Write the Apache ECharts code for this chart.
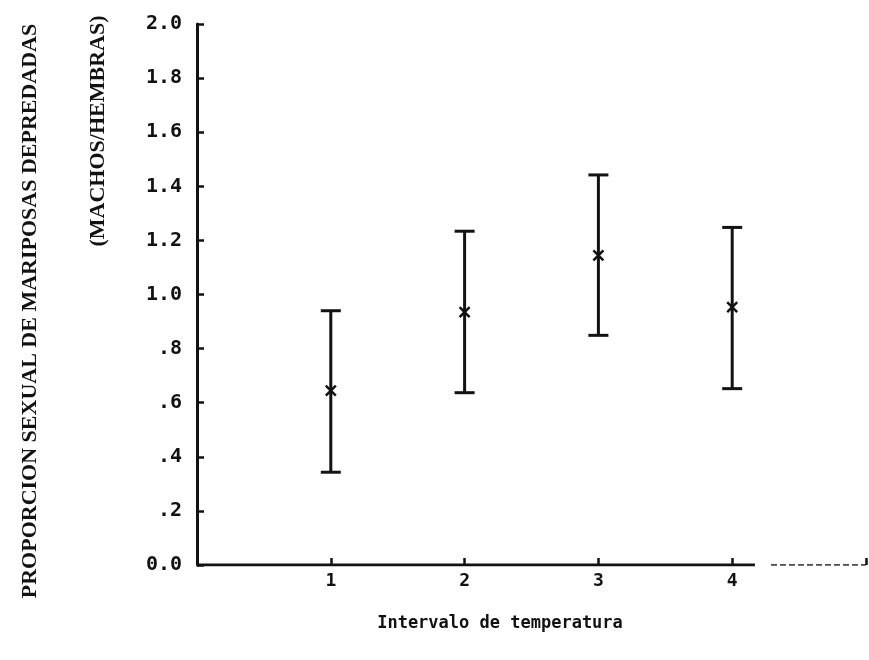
<!DOCTYPE html>
<html>
<head>
<meta charset="utf-8">
<script src="https://cdn.jsdelivr.net/npm/echarts@6/dist/echarts.min.js"></script>
<style>
  html, body { margin: 0; padding: 0; background: #fff; }
  #chart { width: 869px; height: 660px; }
</style>
</head>
<body>
<div id="chart"></div>
<script>
// Sex ratio (males/females) of predated butterflies per temperature interval
const categories = [1, 2, 3, 4];
const means = [0.645, 0.935, 1.145, 0.953];
const upper = [0.94, 1.234, 1.442, 1.248];
const lower = [0.343, 0.637, 0.849, 0.652];
const yTickLabels = ['0.0', '.2', '.4', '.6', '.8', '1.0', '1.2', '1.4', '1.6', '1.8', '2.0'];
const xTickLabels = ['1', '2', '3', '4'];

// x-axis baseline: solid run, then a dashed run out to the right edge
const baseSolid = [[0, 0], [4.17, 0]];
const baseDashed = [[4.29, 0], [5, 0]];

const INK = '#121212';
const monoBold = { fontFamily: 'DejaVu Sans Mono', fontWeight: 'bold', color: INK };

function renderErrorBar(params, api) {
  const x = api.value(0);
  const lo = api.coord([x, api.value(1)]);
  const hi = api.coord([x, api.value(2)]);
  const mid = api.coord([x, api.value(3)]);
  const cap = 10, s = 5;
  const st = { stroke: INK, lineWidth: 3 };
  return {
    type: 'group',
    children: [
      { type: 'line', shape: { x1: hi[0], y1: hi[1], x2: lo[0], y2: lo[1] }, style: st },
      { type: 'line', shape: { x1: hi[0] - cap, y1: hi[1], x2: hi[0] + cap, y2: hi[1] }, style: st },
      { type: 'line', shape: { x1: lo[0] - cap, y1: lo[1], x2: lo[0] + cap, y2: lo[1] }, style: st },
      { type: 'line', shape: { x1: mid[0] - s, y1: mid[1] - s, x2: mid[0] + s, y2: mid[1] + s }, style: { stroke: INK, lineWidth: 2.5 } },
      { type: 'line', shape: { x1: mid[0] - s, y1: mid[1] + s, x2: mid[0] + s, y2: mid[1] - s }, style: { stroke: INK, lineWidth: 2.5 } }
    ]
  };
}

const chart = echarts.init(document.getElementById('chart'), null, { renderer: 'canvas' });
chart.setOption({
  backgroundColor: '#fff',
  animation: false,
  grid: { left: 197, right: 2, top: 24, bottom: 95 },
  xAxis: {
    type: 'value',
    min: 0,
    max: 5,
    interval: 1,
    splitLine: { show: false },
    axisLine: { show: false },
    axisTick: { show: true, inside: true, length: 7, lineStyle: { color: INK, width: 2.5 } },
    axisLabel: Object.assign({
      fontSize: 18,
      margin: 7,
      formatter: function (v) { return (v >= 1 && v <= 4) ? xTickLabels[v - 1] : ''; }
    }, monoBold)
  },
  yAxis: {
    type: 'value',
    min: 0,
    max: 2,
    interval: 0.2,
    splitLine: { show: false },
    axisLine: { show: true, lineStyle: { color: INK, width: 3 } },
    axisTick: { show: true, inside: true, length: 7, lineStyle: { color: INK, width: 2.5 } },
    axisLabel: Object.assign({
      fontSize: 20,
      margin: 15,
      formatter: function (v) { return yTickLabels[Math.round(v / 0.2)]; }
    }, monoBold)
  },
  graphic: [
    {
      type: 'text', x: 30, y: 311, rotation: Math.PI / 2,
      style: {
        text: 'PROPORCION SEXUAL DE MARIPOSAS DEPREDADAS',
        font: 'bold 22px "Liberation Serif"', fill: INK,
        textAlign: 'center', textVerticalAlign: 'middle'
      }
    },
    {
      type: 'text', x: 98, y: 131, rotation: Math.PI / 2,
      style: {
        text: '(MACHOS/HEMBRAS)',
        font: 'bold 22px "Liberation Serif"', fill: INK,
        textAlign: 'center', textVerticalAlign: 'middle'
      }
    },
    {
      type: 'text', x: 500, y: 624,
      style: {
        text: 'Intervalo de temperatura',
        font: 'bold 17px "DejaVu Sans Mono"', fill: INK,
        textAlign: 'center', textVerticalAlign: 'middle'
      }
    }
  ],
  series: [
    {
      type: 'line', data: baseSolid, symbol: 'none', silent: true,
      lineStyle: { color: INK, width: 3 }
    },
    {
      type: 'line', data: baseDashed, symbol: 'none', silent: true,
      lineStyle: { color: INK, width: 1.5, type: [6, 3] }
    },
    {
      type: 'custom',
      renderItem: renderErrorBar,
      data: categories.map(function (c, i) { return [c, lower[i], upper[i], means[i]]; }),
      encode: { x: 0, y: [1, 2, 3] },
      clip: false
    }
  ]
});
</script>
</body>
</html>
